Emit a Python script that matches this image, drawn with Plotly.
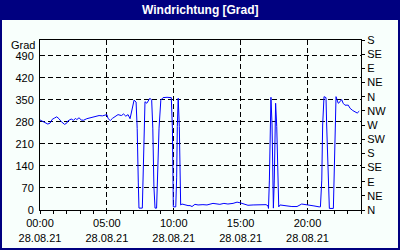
import plotly.graph_objects as go

DATE = "2021-08-28"
times = ["00:00","00:10","00:20","00:35","00:45","00:55","01:05","01:15","01:25","01:35",
         "01:50","02:00","02:05","02:20","02:30","02:40","02:45","02:55","03:05","03:15",
         "03:30","03:45","03:55","04:10","04:25","04:40","04:50","05:00","05:05","05:15",
         "05:25","05:35","05:50","06:05","06:15","06:25","06:35","06:44","06:53","07:02",
         "07:11","07:16","07:21","07:24","07:39","07:42","07:47","07:51","07:59","08:06",
         "08:13","08:21","08:26","08:31","08:36","08:43","08:46","08:54","09:02","09:12",
         "09:30","09:49","09:54","09:56","09:58","10:09","10:13","10:16","10:20","10:25",
         "10:28","10:31","10:37","10:50","11:04","11:13","11:22","11:35","11:49","12:11",
         "12:29","12:56","13:27","13:45","14:03","14:26","14:44","14:57","15:11","15:33",
         "15:56","16:18","16:40","16:54","17:03","17:05","17:09","17:12","17:16","17:21",
         "17:24","17:27","17:31","17:34","17:37","17:42","17:46","17:51","17:57","18:10",
         "18:28","18:50","19:13","19:34","19:53","20:11","20:29","20:52","20:58","21:04",
         "21:08","21:14","21:23","21:26","21:33","21:38","21:56","22:00","22:05","22:08",
         "22:18","22:26","22:33","22:40","22:48","23:03","23:11","23:23","23:33","23:43",
         "23:52"]
values = [286,283,278,273,276,288,292,296,290,281,
          272,276,283,289,285,291,287,293,286,285,
          290,293,295,298,300,299,301,303,291,284,
          291,297,303,300,305,298,303,290,315,349,
          343,259,86,6,6,86,260,344,339,349,
          355,349,260,74,6,6,90,260,349,357,
          358,357,259,22,10,10,102,265,355,265,
          95,16,19,16,14,14,11,18,16,17,
          16,21,18,21,19,21,25,23,19,15,
          16,16,18,17,13,5,95,270,358,270,
          95,6,95,250,339,265,90,10,16,14,
          13,11,11,19,17,17,13,10,10,95,
          270,360,357,270,95,5,5,95,270,360,
          339,344,351,339,333,333,323,316,312,308,
          314]

left_ticks = [0, 70, 140, 210, 280, 350, 420, 490]
right_ticks = [0, 45, 90, 135, 180, 225, 270, 315, 360, 405, 450, 495, 540]
right_labels = ["N", "NE", "E", "SE", "S", "SW", "W", "NW", "N", "NE", "E", "SE", "S"]
x_tick_times = ["00:00", "05:00", "10:00", "15:00", "20:00"]
x_tick_date = "28.08.21"
title = "Windrichtung [Grad]"
unit = "Grad"

x = [f"{DATE} {t}" for t in times]
FONT = "Liberation Sans"
BG = "#F8FFFC"
NAVY = "#000080"

fig = go.Figure()
fig.add_trace(go.Scatter(x=x, y=values, mode="lines",
                         line=dict(color="#0000FF", width=1), showlegend=False))
fig.add_trace(go.Scatter(x=x, y=values, mode="lines", yaxis="y2",
                         line=dict(color="rgba(0,0,0,0)", width=0), showlegend=False,
                         hoverinfo="skip"))

W, H = 400, 250
L, R, T, B = 40, 39, 40, 40
pw, ph = W - L - R, H - T - B

def px_x(p):
    return (p - L) / pw

def px_y(p):
    return (H - B - p) / ph

fig.update_layout(
    width=W, height=H,
    margin=dict(l=L, r=R, t=T, b=B, autoexpand=False),
    paper_bgcolor=NAVY,
    plot_bgcolor=BG,
    font=dict(family=FONT, size=11, color="black"),
    shapes=[dict(type="rect", xref="paper", yref="paper",
                 x0=px_x(2), x1=px_x(398), y0=px_y(248), y1=px_y(20),
                 fillcolor=BG, line=dict(width=0), layer="below")],
    annotations=[
        dict(text=f"<b>{title}</b>", xref="paper", yref="paper",
             x=px_x(200), y=px_y(10), showarrow=False,
             font=dict(family=FONT, size=12, color="white"),
             xanchor="center", yanchor="middle"),
        dict(text=unit, xref="paper", yref="paper",
             x=px_x(37), y=px_y(45), showarrow=False,
             xanchor="right", yanchor="middle", font=dict(size=11)),
    ],
    xaxis=dict(
        type="date", automargin=False,
        range=[f"{DATE} 00:00", "2021-08-29 00:00"],
        tickvals=[f"{DATE} {t}" for t in x_tick_times],
        ticktext=[f"{t}<br>{x_tick_date}" for t in x_tick_times],
        ticks="outside", ticklen=3, tickcolor="black",
        minor=dict(dtick=3600000, ticks="outside", ticklen=3, tickcolor="black", showgrid=False),
        showgrid=True, gridcolor="black", griddash="5px,3px", gridwidth=1,
        showline=True, linecolor="black", linewidth=1, mirror=True,
        zeroline=False, tickangle=0,
    ),
    yaxis=dict(
        range=[0, 540], automargin=False,
        tickvals=left_ticks,
        ticks="", ticklabelstandoff=3,
        showgrid=True, gridcolor="black", griddash="5px,3px", gridwidth=1,
        showline=True, linecolor="black", linewidth=1, mirror=True,
        zeroline=False,
    ),
    yaxis2=dict(
        range=[0, 540], overlaying="y", side="right", anchor="x", automargin=False,
        tickvals=right_ticks, ticktext=right_labels,
        ticks="outside", ticklen=3, tickcolor="black",
        showgrid=False, showline=True, linecolor="black", linewidth=1,
        zeroline=False,
    ),
)

fig.write_html("out.html")
